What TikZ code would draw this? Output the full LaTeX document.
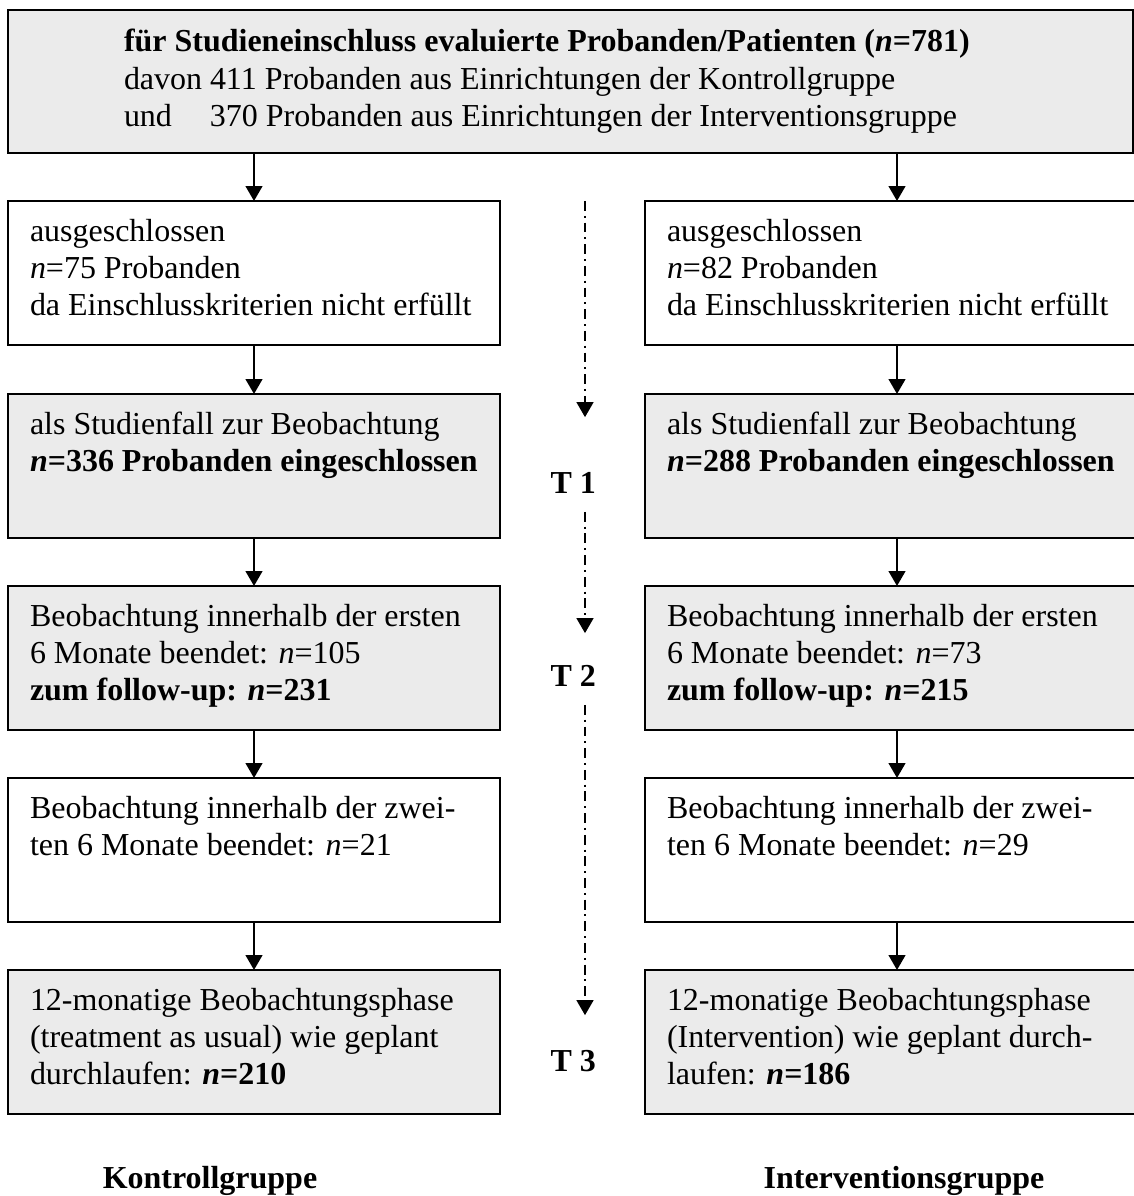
\documentclass[tikz,border=0pt]{standalone}
\usepackage{fontspec}
\setmainfont{Liberation Serif}
\usetikzlibrary{arrows.meta}
\newcommand{\boxtxt}[2][11.2cm]{\parbox[t][2.83cm][t]{#1}{\raggedright\strut #2}}

\begin{document}
\begin{tikzpicture}[
  font=\fontsize{22.75}{26}\selectfont,
  box/.style={draw, line width=1.4pt, anchor=north west, inner xsep=0.55cm,
              inner ysep=0.385cm, outer sep=0pt},
  wbox/.style={box, fill=white},
  gbox/.style={box, fill=black!8},
  tlabel/.style={font=\fontsize{22.75}{26}\selectfont\bfseries, inner sep=0pt},
  arr/.style={-{Triangle[length=3.75mm,width=4.2mm]}, line width=1.4pt},
  tarr/.style={arr, dash pattern=on 7pt off 3.5pt on 1.4pt off 3.5pt}]
\useasboundingbox (0,0) rectangle (28.35,-29.9);

% top box
\node[gbox, minimum width=28.13cm, minimum height=3.575cm, inner sep=0pt,
      font=\fontsize{22.75}{26.6}\selectfont] (top) at (0.2,-0.25)
  {\parbox{22.33cm}{\raggedright
   \textbf{für Studieneinschluss evaluierte Probanden/Patienten (\textit{n}=781)}\\
   \makebox[2.15cm][l]{davon}411 Probanden aus Einrichtungen der Kontrollgruppe\\
   \makebox[2.15cm][l]{und}370 Probanden aus Einrichtungen der Interventionsgruppe}};

% Kontrollgruppe (left column)
\node[wbox] (k1) at (0.2,-5.025) {\boxtxt{ausgeschlossen\\ \textit{n}=75 Probanden\\
  da Einschlusskriterien nicht erfüllt}};
\node[gbox] (k2) at (0.2,-9.85) {\boxtxt{als Studienfall zur Beobachtung\\
  \textbf{\textit{n}=336 Probanden eingeschlossen}}};
\node[gbox] (k3) at (0.2,-14.65) {\boxtxt{Beobachtung innerhalb der ersten\\
  6 Monate beendet: \textit{n}=105\\ \textbf{zum follow-up: \textit{n}=231}}};
\node[wbox] (k4) at (0.2,-19.45) {\boxtxt{Beobachtung innerhalb der zwei-\\
  ten 6 Monate beendet: \textit{n}=21}};
\node[gbox] (k5) at (0.2,-24.25) {\boxtxt{12-monatige Beobachtungsphase\\
  (treatment as usual) wie geplant\\ durchlaufen: \textbf{\textit{n}=210}}};

% Interventionsgruppe (right column)
\node[wbox] (i1) at (16.125,-5.025) {\boxtxt[11.5cm]{ausgeschlossen\\ \textit{n}=82 Probanden\\
  da Einschlusskriterien nicht erfüllt}};
\node[gbox] (i2) at (16.125,-9.85) {\boxtxt[11.5cm]{als Studienfall zur Beobachtung\\
  \textbf{\textit{n}=288 Probanden eingeschlossen}}};
\node[gbox] (i3) at (16.125,-14.65) {\boxtxt[11.5cm]{Beobachtung innerhalb der ersten\\
  6 Monate beendet: \textit{n}=73\\ \textbf{zum follow-up: \textit{n}=215}}};
\node[wbox] (i4) at (16.125,-19.45) {\boxtxt[11.5cm]{Beobachtung innerhalb der zwei-\\
  ten 6 Monate beendet: \textit{n}=29}};
\node[gbox] (i5) at (16.125,-24.25) {\boxtxt[11.5cm]{12-monatige Beobachtungsphase\\
  (Intervention) wie geplant durch-\\ laufen: \textbf{\textit{n}=186}}};

% time points
\node[tlabel] (T1) at (14.33,-12.075) {T 1};
\node[tlabel] (T2) at (14.33,-16.9) {T 2};
\node[tlabel] (T3) at (14.33,-26.53) {T 3};
\coordinate (tx) at (14.625,0);

% group labels
\node[tlabel, anchor=base] (kg) at (5.25,-29.72) {Kontrollgruppe};
\node[tlabel, anchor=base] (ig) at (22.6,-29.72) {Interventionsgruppe};

% arrows
\draw[arr] (top.south -| k1.north) -- (k1.north);
\draw[arr] (top.south -| i1.north) -- (i1.north);
\foreach \a/\b in {k1/k2,k2/k3,k3/k4,k4/k5,i1/i2,i2/i3,i3/i4,i4/i5}
  \draw[arr] (\a) -- (\b);

% time axis
\draw[tarr, shorten >=1.375cm] (tx |- k1.north) -- (tx |- T1.north);
\draw[tarr, shorten <=0.45cm, shorten >=0.8cm] (tx |- T1.south) -- (tx |- T2.north);
\draw[tarr, shorten <=0.45cm, shorten >=0.875cm] (tx |- T2.south) -- (tx |- T3.north);
\end{tikzpicture}
\end{document}
